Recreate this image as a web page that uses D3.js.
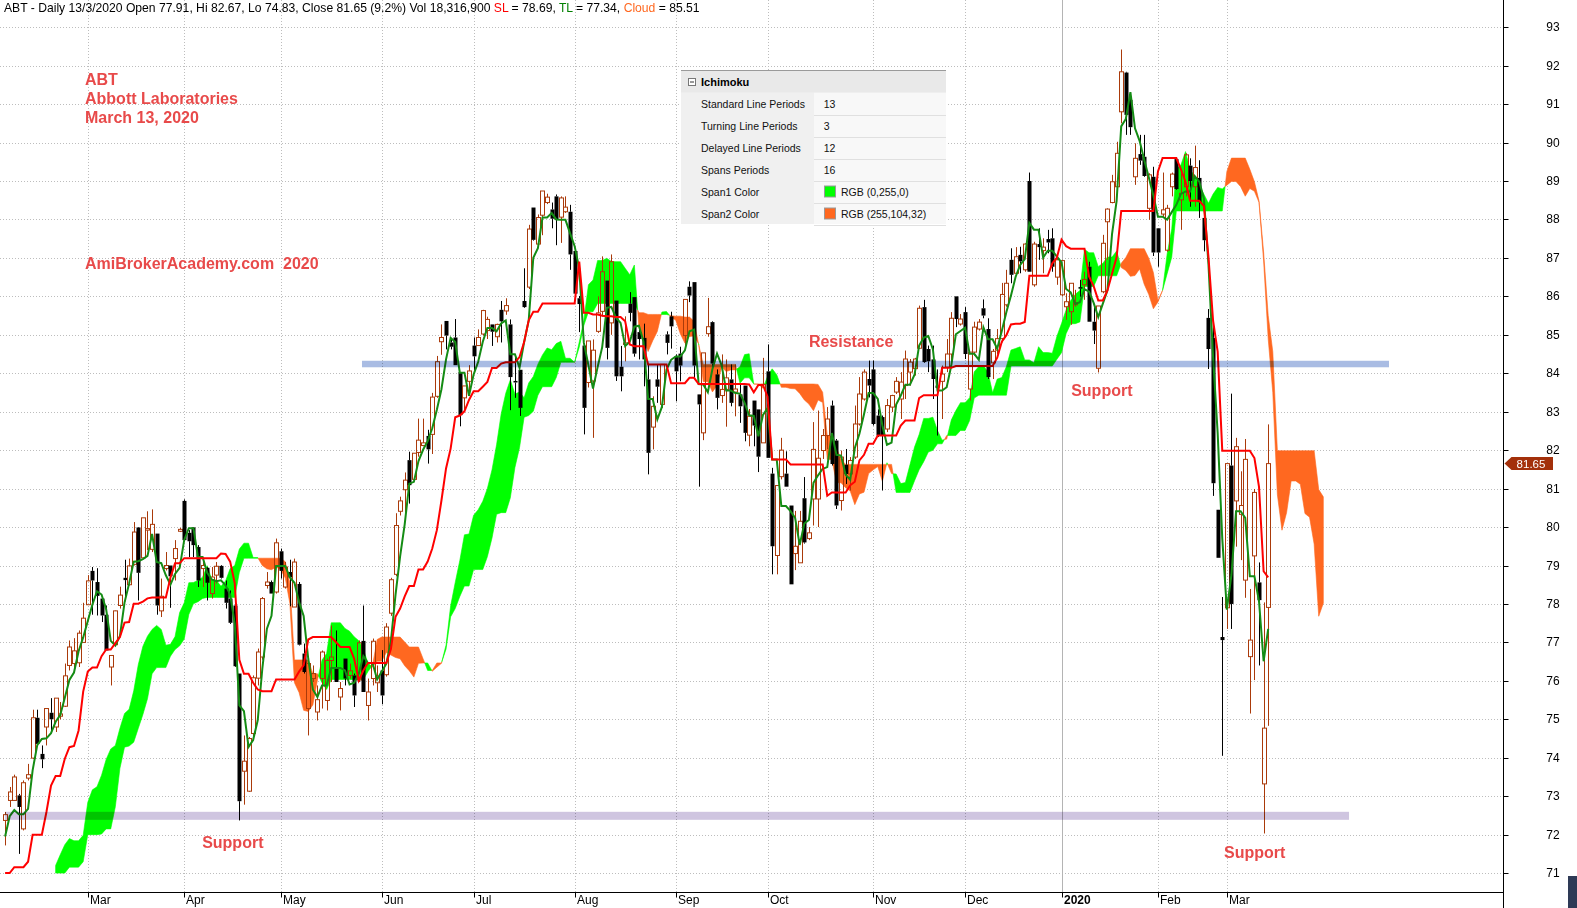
<!DOCTYPE html>
<html><head><meta charset="utf-8">
<script src="https://cdn.jsdelivr.net/npm/d3@7"></script>
<style>
html,body{margin:0;padding:0;background:#fff;overflow:hidden}
svg{display:block;font-family:"Liberation Sans",Arial,sans-serif}
</style></head><body>
<svg id="c" width="1577" height="908"></svg>
<script>
// ---------- DATA (ABT daily, Feb 4 2019 .. Mar 13 2020) ----------
const open = [
72.37,72.89,72.89,73.02,72.15,73.47,73.99,75.04,74.10,74.80,
75.17,74.80,75.08,75.34,76.40,76.45,76.47,77.00,77.98,78.86,
78.57,78.14,77.72,76.36,76.94,77.96,78.68,78.50,79.03,79.99,
79.20,79.92,79.42,79.83,77.82,78.92,79.00,79.18,79.89,80.68,
79.85,79.99,79.48,78.92,78.94,78.27,78.75,78.99,78.40,78.14,
77.96,76.19,73.65,73.13,74.63,76.07,76.62,78.48,78.57,78.31,
79.37,78.44,78.83,77.92,78.52,76.71,75.28,76.06,75.19,76.06,
75.49,76.53,76.32,75.58,76.58,76.14,76.14,76.02,77.04,75.36,
76.06,75.95,76.27,76.16,77.76,78.77,80.41,80.97,81.74,81.24,
81.94,82.12,82.37,82.41,83.40,84.82,85.36,84.80,84.93,84.03,
83.36,83.79,84.72,84.72,85.02,85.11,85.27,84.95,85.65,85.62,
85.27,83.80,84.09,85.88,86.24,88.31,87.36,88.11,88.44,88.26,
88.60,88.06,88.20,88.20,87.18,85.95,84.72,83.76,83.80,85.09,
85.61,86.41,85.31,85.89,84.17,84.75,85.81,85.98,85.07,84.92,
83.84,82.60,83.84,83.19,85.01,85.48,84.44,84.51,84.98,86.25,
86.37,83.45,82.45,85.03,85.33,83.97,83.42,83.58,83.84,83.51,
83.45,83.68,82.39,83.29,83.06,82.19,84.05,81.39,79.26,81.31,
81.39,80.56,79.31,79.07,80.75,79.70,80.73,80.73,81.99,82.38,
83.16,82.25,80.69,81.62,81.38,81.82,82.68,83.33,83.85,84.10,
82.90,82.86,82.55,83.12,83.51,83.33,83.68,84.03,84.12,84.65,
85.72,84.63,84.36,83.68,83.79,84.16,84.50,86.00,85.28,85.59,
83.59,84.55,85.15,85.69,85.15,84.27,84.60,84.90,85.78,86.95,
86.60,87.08,86.69,89.00,86.30,87.36,87.19,87.49,87.51,86.50,
86.04,85.73,85.60,85.78,86.24,86.30,86.77,85.34,84.13,86.12,
87.94,88.44,88.85,90.80,91.82,91.11,89.11,89.70,89.63,88.29,
89.11,87.77,88.14,87.20,88.85,89.57,88.51,88.85,89.40,88.85,
89.08,88.04,85.44,84.92,80.45,77.14,77.90,81.60,80.68,80.33,
78.62,76.63,79.25,78.56,73.32,77.91];
const high = [
72.59,73.24,73.56,73.06,73.41,73.84,75.25,75.25,74.32,75.28,
75.55,75.55,75.45,76.45,77.05,77.11,77.31,78.03,78.75,78.96,
78.93,78.20,77.96,76.66,77.83,78.45,79.15,79.18,80.13,80.00,
80.24,80.41,80.46,79.83,78.66,79.35,79.00,79.66,79.98,80.72,
79.92,80.00,79.53,79.18,78.96,78.96,79.09,79.01,78.61,78.35,
78.05,76.19,74.58,74.54,76.14,76.84,78.18,78.83,78.61,79.70,
79.44,79.09,79.15,79.18,78.57,76.97,76.58,76.40,75.88,76.79,
76.58,77.44,77.31,75.97,76.58,76.45,76.19,77.05,77.96,76.06,
77.10,76.40,76.80,77.50,78.68,80.36,80.79,81.42,81.96,81.92,
82.82,82.82,82.53,83.49,84.45,85.27,85.36,84.89,85.41,84.03,
83.67,84.21,84.93,85.14,85.65,85.47,85.27,85.29,85.88,85.95,
85.40,84.44,84.09,86.73,87.86,88.31,88.13,88.74,88.67,88.44,
88.65,88.60,88.60,88.38,87.18,86.01,84.72,84.84,84.88,86.00,
87.04,86.41,87.09,85.89,84.71,85.48,86.11,85.98,85.22,85.29,
84.23,83.40,84.23,84.23,85.09,85.60,84.49,84.69,85.92,86.39,
86.37,83.45,84.53,85.96,85.35,84.10,84.49,84.36,84.23,84.23,
83.71,83.68,83.07,83.29,83.06,84.40,84.75,81.54,81.08,82.32,
81.97,80.56,80.42,80.42,81.30,80.00,82.73,83.03,82.55,83.12,
83.29,82.29,81.99,82.03,81.82,83.16,83.90,84.10,84.33,84.33,
83.06,82.90,83.33,83.44,83.90,84.03,84.59,84.37,84.40,85.76,
85.91,84.72,84.72,84.10,84.20,84.89,85.59,86.00,85.54,85.72,
84.55,85.34,85.41,85.92,85.43,84.63,85.15,86.35,86.69,87.25,
87.28,87.29,87.38,89.22,87.42,87.77,87.51,87.73,87.77,86.99,
86.95,86.08,86.34,86.17,86.43,86.64,86.90,85.73,85.75,87.60,
88.29,89.16,90.02,92.42,91.84,91.19,89.98,90.20,90.20,89.20,
89.37,87.77,89.22,88.38,89.22,89.60,89.20,89.72,89.59,89.92,
89.54,88.04,85.67,85.35,80.45,78.18,81.65,83.47,82.32,81.45,
82.29,78.39,80.99,79.08,78.04,82.67];
const low = [
71.72,72.72,72.89,71.50,72.11,73.41,73.97,74.32,73.73,74.32,
74.67,74.67,75.00,75.32,76.27,76.23,76.36,77.00,77.98,77.72,
77.70,77.53,76.79,75.88,76.92,77.88,78.07,78.48,79.00,78.09,
79.18,79.40,79.35,77.72,77.66,78.87,77.90,78.61,79.87,79.66,
79.22,79.22,78.44,78.44,78.09,78.14,78.53,78.66,77.88,77.48,
76.36,72.37,72.78,73.11,74.45,75.88,76.55,78.40,78.27,78.27,
78.66,78.40,77.94,77.92,76.92,76.19,74.58,75.97,74.97,75.28,
75.23,75.97,75.97,75.23,75.88,76.06,75.32,75.97,75.71,74.97,
75.88,75.71,75.39,76.11,77.69,78.72,80.30,80.39,80.61,81.20,
81.83,82.10,81.65,81.90,83.36,84.48,84.62,84.62,84.21,82.62,
83.00,83.46,83.99,84.71,84.98,84.89,84.71,84.80,84.80,85.52,
83.04,83.36,82.89,85.70,86.19,87.45,87.36,87.59,88.40,87.77,
87.33,87.39,88.17,86.69,86.01,85.07,82.41,83.63,82.32,85.05,
85.48,84.36,85.00,83.80,83.53,84.31,85.35,84.43,84.36,83.66,
81.37,82.02,83.23,83.10,84.49,84.64,83.27,83.79,84.62,85.85,
83.88,81.05,82.26,84.95,84.14,83.06,83.23,82.61,83.14,82.88,
82.71,82.23,82.10,82.10,81.43,82.19,81.80,78.77,78.77,81.24,
81.05,78.51,78.88,79.07,79.57,79.66,80.04,80.00,81.77,82.03,
81.60,80.47,80.43,81.12,80.95,81.77,82.64,83.29,83.37,82.64,
82.34,80.95,82.47,82.99,83.46,82.81,83.33,83.68,83.94,84.63,
84.27,84.03,83.33,82.38,82.81,84.03,84.20,85.20,85.24,84.37,
83.29,84.46,85.11,85.43,83.85,83.85,84.50,84.80,85.73,86.34,
86.56,86.60,86.64,86.64,86.25,86.95,86.60,87.12,86.64,86.30,
86.00,85.39,85.26,85.73,85.99,85.91,85.34,84.76,84.02,86.08,
86.95,88.42,88.81,90.50,90.20,90.20,88.90,89.42,89.11,87.99,
87.05,86.77,88.07,87.16,88.60,88.77,87.73,88.60,88.33,88.33,
88.04,87.17,84.11,80.81,79.20,74.05,77.35,77.35,79.49,79.14,
78.16,75.15,76.02,76.40,72.03,74.83];
const close = [
72.52,73.11,73.50,72.72,73.35,73.56,75.04,74.36,73.96,75.28,
75.00,75.55,75.14,76.13,76.88,76.78,77.24,77.63,78.60,78.61,
78.21,77.70,76.79,76.66,77.82,78.23,78.62,78.99,79.87,78.81,
80.24,79.96,80.07,77.96,78.20,79.00,78.72,79.44,79.94,79.66,
79.63,79.53,78.61,79.00,78.55,78.70,78.98,78.68,78.03,77.51,
76.38,72.87,73.91,74.50,76.08,76.75,78.14,78.57,78.27,79.59,
78.86,78.96,78.69,79.09,76.94,76.23,76.45,76.19,75.51,76.75,
76.53,76.62,75.97,75.80,76.06,76.26,75.62,76.99,75.71,75.71,
77.03,76.12,75.62,77.40,78.63,80.04,80.68,81.22,81.09,81.92,
82.26,82.19,82.02,83.38,84.30,84.93,84.98,84.69,84.21,82.91,
83.67,84.06,84.44,84.93,85.63,85.40,85.08,85.27,85.35,85.76,
83.90,83.76,83.10,85.72,87.75,87.47,88.05,88.74,88.58,88.02,
87.99,88.56,88.32,87.09,86.07,85.80,83.10,84.84,84.60,85.57,
86.64,84.66,86.90,83.92,83.92,84.79,85.57,84.51,84.89,84.36,
81.93,83.14,83.65,84.23,84.79,85.22,84.05,84.20,85.92,86.02,
84.20,83.19,84.53,85.21,84.25,83.36,83.58,83.88,83.23,83.59,
83.14,82.45,82.88,82.64,81.83,83.71,81.80,79.50,81.08,82.00,
81.05,78.51,79.50,80.15,79.60,79.85,82.02,81.79,82.38,82.81,
81.64,80.56,81.82,81.38,81.73,82.68,83.46,84.03,83.68,82.68,
82.38,82.38,83.16,83.42,83.79,83.77,84.37,84.29,84.37,85.69,
84.29,84.31,83.85,83.62,83.98,84.50,85.43,85.41,85.41,84.50,
84.55,85.20,85.33,85.50,83.90,84.57,84.90,86.05,86.34,86.56,
87.03,86.91,87.36,86.64,87.36,87.28,87.28,87.40,86.77,86.95,
86.93,85.86,86.34,85.84,86.20,86.44,85.34,85.11,85.75,87.38,
88.27,88.98,89.72,91.84,90.72,90.40,89.59,89.53,89.13,89.16,
87.14,87.14,88.25,88.29,89.18,88.79,88.68,89.68,89.00,89.35,
88.45,87.46,84.63,81.14,79.20,77.06,81.65,78.00,82.09,80.56,
81.76,77.06,80.90,78.10,74.77,81.65];
// bars before the first visible one (off-chart), read back from the indicator lines
const preHigh = [71.6,71.9,72.4,72.1,71.8,71.5,71.9,72.6,73.25,72.9,72.2,70.9,70.2,71.3,72.3,72.9];
const preLow  = [70.6,71.0,71.3,71.1,70.7,70.5,71.0,71.7,72.1,71.6,70.6,69.5,68.75,69.9,71.0,72.0];

// Ichimoku parameters (shown in the panel)
const legendLabels = ["Standard Line Periods","Turning Line Periods","Delayed Line Periods","Spans Periods","Span1 Color","Span2 Color"];
const legendValues = ["13","3","12","16","RGB (0,255,0)","RGB (255,104,32)"];
const slPeriod = 13, tlPeriod = 3, delayPeriod = 12, spanPeriod = 16;

const priceTicks = [71,72,73,74,75,76,77,78,79,80,81,82,83,84,85,86,87,88,89,90,91,92,93];
const monthLabels = ["Mar","Apr","May","Jun","Jul","Aug","Sep","Oct","Nov","Dec","2020","Feb","Mar"];
const monthBars   = [18,39,60,82,102,124,146,166,189,209,230,251,266];

// annotations: horizontal levels (value, from bar, to bar)
const levelValues = [84.24, 72.49];
const levelFrom   = [77.7, 0];
const levelTo     = [301.3, 292.6];
const noteTexts  = ["Resistance","Support","Support","Support"];
const noteBars   = [175.0, 42.9, 232.1, 265.4];
const noteValues = [84.68, 71.65, 83.41, 71.39];

const lastClose = 81.65;

// ---------- SCALES ----------
const svg = d3.select('#c');
const plotRight = 1503.5, plotBottom = 892.5;
const nBars = open.length;
const xs = d3.scaleLinear().domain([0, 275]).range([5.1, 1268.2]);
const y  = d3.scaleLinear().domain([71, 93]).range([873.1, 27.2]);

const upCol = '#AA3A0A', slCol = '#FF0000', tlCol = '#148C14';
const green = '#00FF00', orange = 'rgb(255,104,32)', noteCol = '#E84A4A';

svg.append('defs').append('clipPath').attr('id','clip')
  .append('rect').attr('x',0).attr('y',0).attr('width',1503).attr('height',892);

// ---------- GRID ----------
const grid = svg.append('g');
grid.selectAll('line.h').data(priceTicks).join('line')
  .attr('x1',0).attr('x2',plotRight)
  .attr('y1',d=>Math.round(y(d))+0.5).attr('y2',d=>Math.round(y(d))+0.5)
  .attr('stroke','#bdbdbd').attr('stroke-dasharray','1,2');
grid.selectAll('line.v').data(monthBars).join('line')
  .attr('x1',d=>Math.round(xs(d))+0.5).attr('x2',d=>Math.round(xs(d))+0.5)
  .attr('y1',0).attr('y2',plotBottom)
  .attr('stroke',(d,i)=>monthLabels[i]==='2020'?'#b4b4b4':'#bdbdbd')
  .attr('stroke-dasharray',(d,i)=>monthLabels[i]==='2020'?null:'1,2');

// ---------- ICHIMOKU ----------
const allH = preHigh.concat(high), allL = preLow.concat(low);
const off = preHigh.length;
function mid(g, p){
  if (g - p + 1 < 0) return null;
  let hh=-Infinity, ll=Infinity;
  for (let k=g-p+1;k<=g;k++){ hh=Math.max(hh,allH[k]); ll=Math.min(ll,allL[k]); }
  return (hh+ll)/2;
}
const SL=[],TL=[],S1=[],S2=[];
for (let g=0; g<allH.length; g++){
  SL[g]=mid(g,slPeriod); TL[g]=mid(g,tlPeriod); S2[g]=mid(g,spanPeriod);
  S1[g]=(SL[g]!=null&&TL[g]!=null)?(SL[g]+TL[g])/2:null;
}
const cloudPts=[];
for (let g=0; g<allH.length; g++){
  if (S1[g]==null||S2[g]==null) continue;
  cloudPts.push({x:g-off+delayPeriod, a:S1[g], b:S2[g]});
}
const runs=[]; let cur=null;
cloudPts.forEach((p,j)=>{
  const s = p.a>=p.b?1:-1;
  if (cur && cur.sign!==s){
    const q=cloudPts[j-1]; const d1=q.a-q.b, d2=p.a-p.b; const t=d1/(d1-d2);
    const xc=q.x+t*(p.x-q.x), yc=q.a+t*(p.a-q.a);
    cur.pts.push({x:xc,a:yc,b:yc}); runs.push(cur);
    cur={sign:s,pts:[{x:xc,a:yc,b:yc}]};
  }
  if(!cur) cur={sign:s,pts:[]};
  cur.pts.push(p);
});
if(cur) runs.push(cur);

const plot = svg.append('g').attr('clip-path','url(#clip)');
const area = d3.area().x(d=>xs(d.x)).y0(d=>y(d.b)).y1(d=>y(d.a));
plot.append('g').selectAll('path').data(runs).join('path')
  .attr('d',d=>area(d.pts))
  .attr('fill',d=>d.sign>0?green:orange)
  .attr('stroke',d=>d.sign>0?green:orange).attr('stroke-width',0.6);

// ---------- CANDLES ----------
const bars = d3.range(nBars).map(i=>({i,o:open[i],h:high[i],l:low[i],c:close[i]}));
const gC = plot.append('g');
bars.forEach(d=>{
  const cx = Math.round(xs(d.i));
  const up = d.c>=d.o;
  const col = up?upCol:'#000';
  const top=y(Math.max(d.o,d.c)), bot=y(Math.min(d.o,d.c));
  gC.append('line').attr('x1',cx+0.5).attr('x2',cx+0.5).attr('y1',y(d.h)).attr('y2',top).attr('stroke',col);
  gC.append('line').attr('x1',cx+0.5).attr('x2',cx+0.5).attr('y1',bot).attr('y2',y(d.l)).attr('stroke',col);
  if (up){
    gC.append('rect').attr('x',cx-1.5).attr('y',top).attr('width',4).attr('height',Math.max(bot-top,0.8))
      .attr('fill','none').attr('stroke',col).attr('stroke-width',1);
  } else {
    gC.append('rect').attr('x',cx-1.5).attr('y',top).attr('width',4).attr('height',Math.max(bot-top,1.2))
      .attr('fill','#000');
  }
});

// ---------- SL / TL ----------
const lineGen = d3.line().x(d=>xs(d.i)).y(d=>y(d.v));
const slData = d3.range(nBars).map(i=>({i,v:SL[i+off]}));
const tlData = d3.range(nBars).map(i=>({i,v:TL[i+off]}));
plot.append('path').attr('d',lineGen(tlData)).attr('fill','none').attr('stroke',tlCol).attr('stroke-width',2);
plot.append('path').attr('d',lineGen(slData)).attr('fill','none').attr('stroke',slCol).attr('stroke-width',2);

// ---------- LEVEL LINES ----------
const levCols = ['#A9BCE3','#CFC5E0'];
const levW = [6.5, 8];
levelValues.forEach((v,k)=>{
  svg.append('rect').attr('x',xs(levelFrom[k])).attr('width',xs(levelTo[k])-xs(levelFrom[k]))
    .attr('y',y(v)-levW[k]/2).attr('height',levW[k])
    .attr('fill',levCols[k]).style('mix-blend-mode','multiply');
});

// ---------- NOTES ----------
svg.append('g').selectAll('text').data(noteTexts).join('text')
  .attr('x',(d,i)=>xs(noteBars[i])).attr('y',(d,i)=>y(noteValues[i]))
  .attr('font-size',16).attr('font-weight','bold').attr('fill',noteCol).text(d=>d);
const titleLines = ["ABT","Abbott Laboratories","March 13, 2020"];
svg.append('g').selectAll('text').data(titleLines).join('text')
  .attr('x',85).attr('y',(d,i)=>84.5+i*19).attr('font-size',16).attr('font-weight','bold')
  .attr('fill',noteCol).text(d=>d);
svg.append('text').attr('x',85).attr('y',268.5).attr('font-size',16).attr('font-weight','bold')
  .attr('fill',noteCol).attr('xml:space','preserve').text('AmiBrokerAcademy.com  2020');

// ---------- HEADER ----------
const hdr = svg.append('text').attr('x',4).attr('y',12).attr('font-size',12.15).attr('fill','#000').attr('xml:space','preserve');
[["ABT - Daily 13/3/2020 Open 77.91, Hi 82.67, Lo 74.83, Close 81.65 (9.2%) Vol 18,316,900 ","#000"],
 ["SL","#FF0000"],[" = 78.69, ","#000"],["TL","#008000"],[" = 77.34, ","#000"],["Cloud","rgb(255,104,32)"],[" = 85.51","#000"]]
 .forEach(p=>hdr.append('tspan').attr('fill',p[1]).text(p[0]));

// ---------- LEGEND PANEL ----------
const lg = svg.append('g').attr('transform','translate(681,70)');
lg.append('rect').attr('x',0).attr('y',0).attr('width',265).attr('height',154).attr('fill','#f0f0f0');
lg.append('rect').attr('x',133).attr('y',22.5).attr('width',132).attr('height',131.5).attr('fill','#f8f8f8');
lg.append('rect').attr('x',0).attr('y',0).attr('width',265).attr('height',22.5).attr('fill','#e9e9e9');
lg.append('line').attr('x1',0).attr('x2',265).attr('y1',0.5).attr('y2',0.5).attr('stroke','#9a9a9a');
lg.append('rect').attr('x',7.5).attr('y',8.5).attr('width',7).attr('height',7).attr('fill','#fff').attr('stroke','#777');
lg.append('line').attr('x1',9).attr('x2',13).attr('y1',12).attr('y2',12).attr('stroke','#333');
lg.append('text').attr('x',20).attr('y',15.5).attr('font-size',11).attr('font-weight','bold').attr('fill','#000').text('Ichimoku');
legendLabels.forEach((t,k)=>{
  const ry = 22.5 + k*22;
  lg.append('line').attr('x1',133).attr('x2',265).attr('y1',Math.round(ry+22)+0.5).attr('y2',Math.round(ry+22)+0.5).attr('stroke','#e0e0e0');
  lg.append('text').attr('x',20).attr('y',ry+15).attr('font-size',10.5).attr('fill','#111').text(t);
  let vx = 142.7;
  if (k>=4){
    lg.append('rect').attr('x',143.5).attr('y',ry+5.5).attr('width',11).attr('height',11)
      .attr('fill',k===4?green:orange).attr('stroke','#999');
    vx = 160;
  }
  lg.append('text').attr('x',vx).attr('y',ry+15).attr('font-size',10.5).attr('fill','#111').text(legendValues[k]);
});

// ---------- AXES ----------
const ax = svg.append('g');
ax.append('line').attr('x1',plotRight).attr('x2',plotRight).attr('y1',0).attr('y2',908).attr('stroke','#000');
ax.append('line').attr('x1',0).attr('x2',plotRight).attr('y1',plotBottom).attr('y2',plotBottom).attr('stroke','#000');
ax.selectAll('line.yt').data(priceTicks).join('line')
  .attr('x1',plotRight).attr('x2',plotRight+5)
  .attr('y1',d=>Math.round(y(d))+0.5).attr('y2',d=>Math.round(y(d))+0.5).attr('stroke','#000');
ax.selectAll('text.yl').data(priceTicks).join('text')
  .attr('x',1553).attr('y',d=>y(d)+4).attr('text-anchor','middle').attr('font-size',12).attr('fill','#000').text(d=>d);
ax.selectAll('line.xt').data(monthBars).join('line')
  .attr('x1',d=>Math.round(xs(d))+0.5).attr('x2',d=>Math.round(xs(d))+0.5)
  .attr('y1',plotBottom).attr('y2',plotBottom+5).attr('stroke','#000');
ax.selectAll('text.xl').data(monthLabels).join('text')
  .attr('x',(d,i)=>Math.round(xs(monthBars[i]))+2).attr('y',904)
  .attr('font-size',12).attr('font-weight',d=>d==='2020'?'bold':'normal').attr('fill','#000').text(d=>d);

// last value marker
const ly = y(lastClose);
ax.append('path').attr('d',`M${plotRight+1},${ly} L${plotRight+8},${ly-6.5} L1553,${ly-6.5} L1553,${ly+6.5} L${plotRight+8},${ly+6.5} Z`)
  .attr('fill','#A3300A');
ax.append('text').attr('x',1531).attr('y',ly+4).attr('text-anchor','middle').attr('font-size',11.5).attr('fill','#fff').text(lastClose.toFixed(2));

// scrollbar stub
svg.append('rect').attr('x',1568).attr('y',876).attr('width',9).attr('height',32).attr('fill','#2E3A56');
</script>
</body></html>
